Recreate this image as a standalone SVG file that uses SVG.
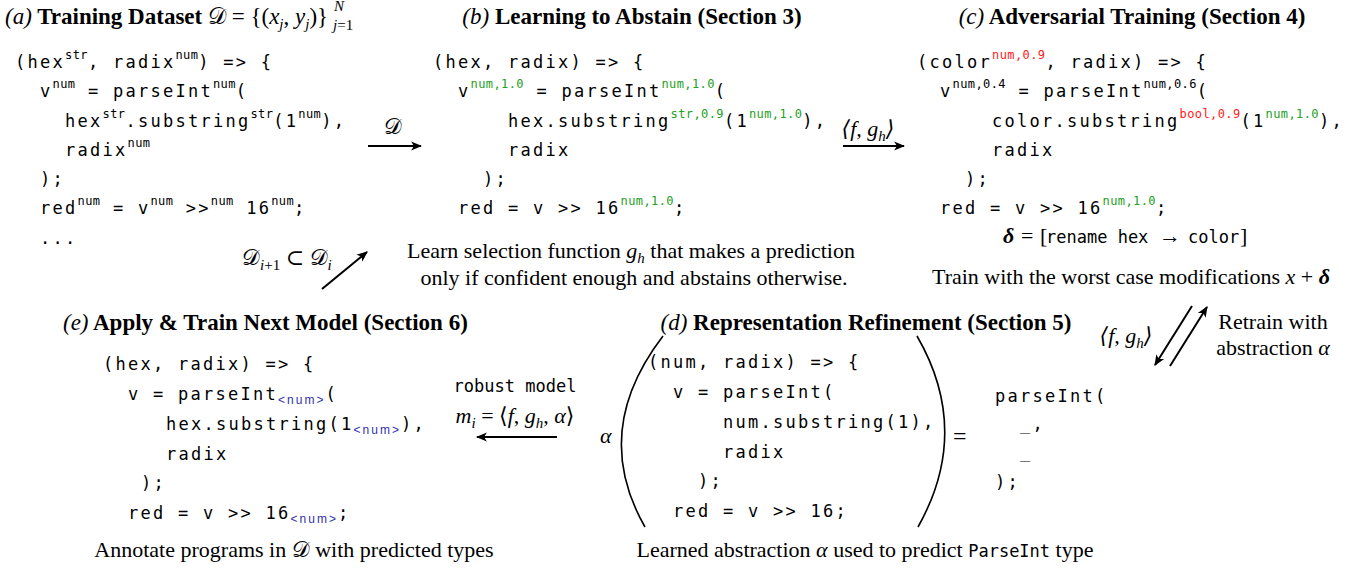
<svg xmlns="http://www.w3.org/2000/svg" width="1370" height="569" viewBox="0 0 1370 569">
<defs>
<style>
text{white-space:pre}
.code{font-family:'DejaVu Sans Mono',monospace;font-size:17px;letter-spacing:2.27px;fill:#000}
.sup{font-size:12px;letter-spacing:0.4px}
.g{fill:#22a022}
.r{fill:#ff2020}
.sub{font-family:'Liberation Sans',sans-serif;font-size:12px;letter-spacing:2px;fill:#3030b0}
.title{font-family:'Liberation Serif',serif;font-size:23px;font-weight:bold;fill:#000}
.ti{font-style:italic;font-weight:normal}
.tm{font-weight:normal}
.ser{font-family:'Liberation Serif','DejaVu Serif',serif;font-size:22px;fill:#000}
.it{font-style:italic}
.bi{font-style:italic;font-weight:bold}
.mono{font-family:'DejaVu Sans Mono',monospace;font-size:17px;letter-spacing:0;font-style:normal}
.sm{font-size:15px}
.cal{font-family:'DejaVu Serif','DejaVu Sans','Noto Sans',serif;font-style:normal;font-weight:normal}
.mid{text-anchor:middle}
.arrow{stroke:#000;stroke-width:2;fill:none;marker-end:url(#ah)}
.paren{stroke:#000;stroke-width:1.6;fill:none}
</style>
<marker id="ah" viewBox="0 0 10 10" refX="9" refY="5" markerWidth="11" markerHeight="11" markerUnits="userSpaceOnUse" orient="auto">
<path d="M0,0.8 L10,5 L0,9.2 L2.6,5 Z" fill="#000"/>
</marker>
</defs>
<rect width="1370" height="569" fill="#fff"/>

<g id="panel-a">
<text class="title" x="5" y="24"><tspan class="ti">(a)</tspan> Training Dataset <tspan class="tm cal">𝒟</tspan><tspan class="tm"> = {(</tspan><tspan class="ti">x</tspan><tspan class="ti sm" dy="5">j</tspan><tspan class="tm" dy="-5">, </tspan><tspan class="ti">y</tspan><tspan class="ti sm" dy="5">j</tspan><tspan class="tm" dy="-5">)}</tspan></text>
<text class="ser it sm" x="334" y="11">N</text>
<text class="ser sm" x="333" y="30"><tspan class="it">j</tspan>=1</text>
<text class="code" x="15" y="68">(hex<tspan class="sup" dy="-9">str</tspan><tspan dy="9">, radix</tspan><tspan class="sup" dy="-9">num</tspan><tspan dy="9">) =&gt; {</tspan></text>
<text class="code" x="40" y="97">v<tspan class="sup" dy="-9">num</tspan><tspan dy="9"> = parseInt</tspan><tspan class="sup" dy="-9">num</tspan><tspan dy="9">(</tspan></text>
<text class="code" x="65" y="127">hex<tspan class="sup" dy="-9">str</tspan><tspan dy="9">.substring</tspan><tspan class="sup" dy="-9">str</tspan><tspan dy="9">(1</tspan><tspan class="sup" dy="-9">num</tspan><tspan dy="9">),</tspan></text>
<text class="code" x="65" y="156">radix<tspan class="sup" dy="-9">num</tspan></text>
<text class="code" x="40" y="185">);</text>
<text class="code" x="40" y="214">red<tspan class="sup" dy="-9">num</tspan><tspan dy="9"> = v</tspan><tspan class="sup" dy="-9">num</tspan><tspan dy="9"> &gt;&gt;</tspan><tspan class="sup" dy="-9">num</tspan><tspan dy="9"> 16</tspan><tspan class="sup" dy="-9">num</tspan><tspan dy="9">;</tspan></text>
<text class="code" x="40" y="244">...</text>
</g>

<g id="panel-b">
<text class="title mid" x="632" y="24"><tspan class="ti">(b)</tspan> Learning to Abstain (Section 3)</text>
<text class="code" x="433" y="68">(hex, radix) =&gt; {</text>
<text class="code" x="458" y="97">v<tspan class="sup g" dy="-9">num,1.0</tspan><tspan dy="9"> = parseInt</tspan><tspan class="sup g" dy="-9">num,1.0</tspan><tspan dy="9">(</tspan></text>
<text class="code" x="508" y="127">hex.substring<tspan class="sup g" dy="-9">str,0.9</tspan><tspan dy="9">(1</tspan><tspan class="sup g" dy="-9">num,1.0</tspan><tspan dy="9">),</tspan></text>
<text class="code" x="508" y="156">radix</text>
<text class="code" x="483" y="185">);</text>
<text class="code" x="458" y="214">red = v &gt;&gt; 16<tspan class="sup g" dy="-9">num,1.0</tspan><tspan dy="9">;</tspan></text>
<text class="ser mid" x="631" y="258">Learn selection function <tspan class="it">g</tspan><tspan class="it sm" dy="5">h</tspan><tspan dy="-5"> that makes a prediction</tspan></text>
<text class="ser mid" x="634" y="285">only if confident enough and abstains otherwise.</text>
</g>

<g id="panel-c">
<text class="title mid" x="1132" y="24"><tspan class="ti">(c)</tspan> Adversarial Training (Section 4)</text>
<text class="code" x="917" y="68">(color<tspan class="sup r" dy="-9">num,0.9</tspan><tspan dy="9">, radix) =&gt; {</tspan></text>
<text class="code" x="940" y="97">v<tspan class="sup" dy="-9">num,0.4</tspan><tspan dy="9"> = parseInt</tspan><tspan class="sup" dy="-9">num,0.6</tspan><tspan dy="9">(</tspan></text>
<text class="code" x="992" y="127">color.substring<tspan class="sup r" dy="-9">bool,0.9</tspan><tspan dy="9">(1</tspan><tspan class="sup g" dy="-9">num,1.0</tspan><tspan dy="9">),</tspan></text>
<text class="code" x="992" y="156">radix</text>
<text class="code" x="965" y="185">);</text>
<text class="code" x="940" y="214">red = v &gt;&gt; 16<tspan class="sup g" dy="-9">num,1.0</tspan><tspan dy="9">;</tspan></text>
<text class="ser" y="243"><tspan class="bi" x="1003">δ</tspan><tspan x="1021">=</tspan><tspan x="1040">[</tspan><tspan class="mono" x="1046">rename hex</tspan><tspan x="1159">→</tspan><tspan class="mono" x="1188">color</tspan><tspan x="1240">]</tspan></text>
<text class="ser mid" x="1131" y="284">Train with the worst case modifications <tspan class="it">x</tspan> + <tspan class="bi">δ</tspan></text>
</g>

<g id="panel-d">
<text class="title mid" x="866" y="330"><tspan class="ti">(d)</tspan> Representation Refinement (Section 5)</text>
<text class="ser it" x="600" y="443">α</text>
<path class="paren" d="M663,336 Q590,431 645,527"/>
<path class="paren" d="M917,336 Q972,431 918,527"/>
<text class="code" x="648" y="368">(num, radix) =&gt; {</text>
<text class="code" x="673" y="398">v = parseInt(</text>
<text class="code" x="723" y="428">num.substring(1),</text>
<text class="code" x="723" y="458">radix</text>
<text class="code" x="698" y="487">);</text>
<text class="code" x="673" y="517">red = v &gt;&gt; 16;</text>
<text class="ser" x="953" y="444" style="font-size:24px">=</text>
<text class="code" x="995" y="402">parseInt(</text>
<text class="code" x="1020" y="430">_,</text>
<text class="code" x="1020" y="458">_</text>
<text class="code" x="995" y="488">);</text>
<text class="ser mid" x="865" y="557">Learned abstraction <tspan class="it">α</tspan> used to predict <tspan class="mono">ParseInt</tspan> type</text>
</g>

<g id="panel-e">
<text class="title" x="63" y="330"><tspan class="ti">(e)</tspan> Apply &amp; Train Next Model (Section 6)</text>
<text class="code" x="103" y="370">(hex, radix) =&gt; {</text>
<text class="code" x="128" y="400">v = parseInt<tspan class="sub" dy="4">&lt;num&gt;</tspan><tspan dy="-4">(</tspan></text>
<text class="code" x="166" y="430">hex.substring(1<tspan class="sub" dy="4">&lt;num&gt;</tspan><tspan dy="-4">),</tspan></text>
<text class="code" x="166" y="460">radix</text>
<text class="code" x="141" y="489">);</text>
<text class="code" x="128" y="519">red = v &gt;&gt; 16<tspan class="sub" dy="4">&lt;num&gt;</tspan><tspan dy="-4">;</tspan></text>
<text class="ser mid" x="294" y="557">Annotate programs in <tspan class="cal">𝒟</tspan> with predicted types</text>
</g>

<g id="connectors">
<line class="arrow" x1="368" y1="146" x2="421" y2="146"/>
<text class="ser mid cal" x="393" y="134">𝒟</text>
<line class="arrow" x1="843" y1="146" x2="904" y2="146"/>
<text class="ser it mid" x="868" y="136">⟨<tspan>f</tspan>, g<tspan class="sm" dy="5">h</tspan><tspan dy="-5">⟩</tspan></text>
<line class="arrow" x1="322" y1="289" x2="367" y2="252"/>
<text class="ser it" x="242" y="265"><tspan class="cal">𝒟</tspan><tspan class="sm" dy="5">i</tspan><tspan class="sm" style="font-style:normal">+1</tspan><tspan dy="-5" style="font-style:normal"> ⊂ </tspan><tspan class="cal">𝒟</tspan><tspan class="sm" dy="5">i</tspan></text>
<line class="arrow" x1="1192" y1="306" x2="1155" y2="365"/>
<line class="arrow" x1="1170" y1="366" x2="1207" y2="307"/>
<text class="ser it mid" x="1126" y="343">⟨f, g<tspan class="sm" dy="5">h</tspan><tspan dy="-5">⟩</tspan></text>
<text class="ser mid" x="1273" y="329">Retrain with</text>
<text class="ser mid" x="1273" y="355">abstraction <tspan class="it">α</tspan></text>
<line class="arrow" x1="557" y1="437" x2="477" y2="437"/>
<text class="mono mid" x="515" y="392">robust model</text>
<text class="ser mid" x="515" y="423"><tspan class="it">m</tspan><tspan class="it sm" dy="5">i</tspan><tspan dy="-5"> = ⟨</tspan><tspan class="it">f</tspan>, <tspan class="it">g</tspan><tspan class="it sm" dy="5">h</tspan><tspan dy="-5">, </tspan><tspan class="it">α</tspan>⟩</text>
</g>
</svg>
